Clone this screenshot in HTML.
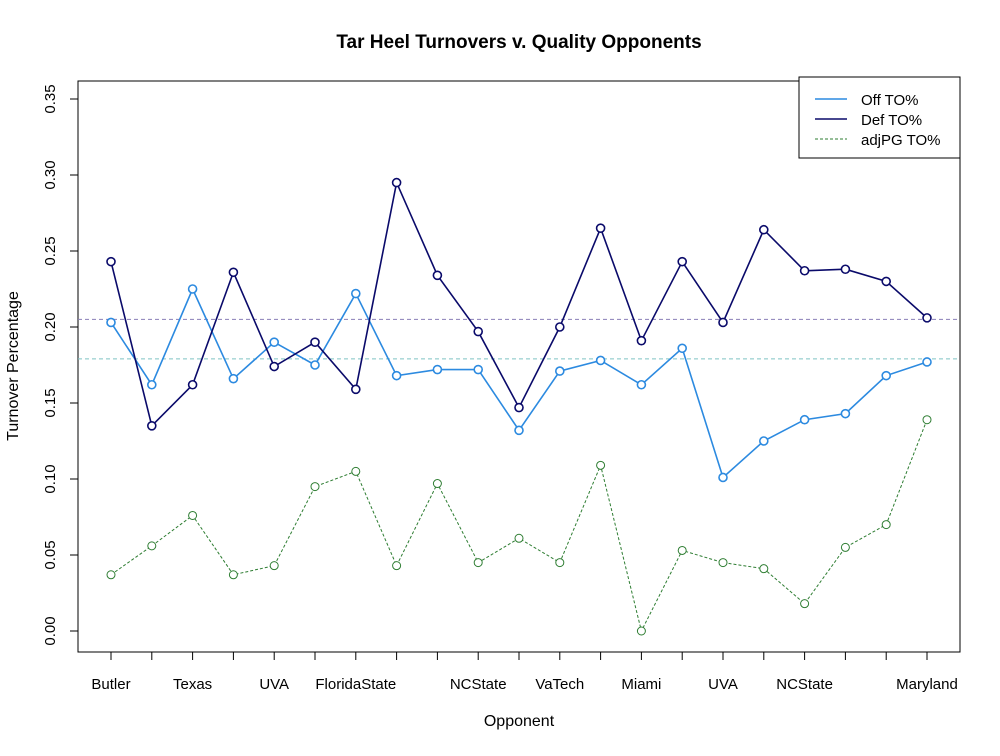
<!DOCTYPE html>
<html><head><meta charset="utf-8"><style>
body{margin:0;background:#fff;}
svg text{font-family:"Liberation Sans",sans-serif;fill:#000;}
</style></head><body>
<svg id="chart" width="1000" height="751" xmlns="http://www.w3.org/2000/svg">
<rect width="1000" height="751" fill="#fff"/>
<text x="519" y="48" text-anchor="middle" font-size="19" font-weight="bold">Tar Heel Turnovers v. Quality Opponents</text>
<rect x="78" y="81" width="882" height="571" fill="none" stroke="#000"/>
<text x="519" y="726" text-anchor="middle" font-size="16">Opponent</text>
<text transform="translate(18,366) rotate(-90)" text-anchor="middle" font-size="16">Turnover Percentage</text>
<g id="axes"></g>
<g id="series"></g>
<g>
<rect x="799" y="77" width="161" height="81" fill="#fff" stroke="#000"/>
<line x1="815" y1="99" x2="847" y2="99" stroke="#2c8ae0" stroke-width="1.5"/>
<text x="861" y="105" font-size="15">Off TO%</text>
<line x1="815" y1="119" x2="847" y2="119" stroke="#0a0a6a" stroke-width="1.5"/>
<text x="861" y="125" font-size="15">Def TO%</text>
<line x1="815" y1="139" x2="847" y2="139" stroke="#2e7d32" stroke-dasharray="3,2"/>
<text x="861" y="145" font-size="15">adjPG TO%</text>
</g>
</svg>
<script>
const categories=["Butler","","Texas","","UVA","","FloridaState","","","NCState","","VaTech","","Miami","","UVA","","NCState","","","Maryland"];
const offTO=[0.203,0.162,0.225,0.166,0.190,0.175,0.222,0.168,0.172,0.172,0.132,0.171,0.178,0.162,0.186,0.101,0.125,0.139,0.143,0.168,0.177];
const defTO=[0.243,0.135,0.162,0.236,0.174,0.190,0.159,0.295,0.234,0.197,0.147,0.200,0.265,0.191,0.243,0.203,0.264,0.237,0.238,0.230,0.206];
const adjPG=[0.037,0.056,0.076,0.037,0.043,0.095,0.105,0.043,0.097,0.045,0.061,0.045,0.109,0.000,0.053,0.045,0.041,0.018,0.055,0.070,0.139];
const yTicks=["0.00","0.05","0.10","0.15","0.20","0.25","0.30","0.35"];
const refLines=[0.205,0.179];
const NS="http://www.w3.org/2000/svg";
function xs(i){return 111+i*(927-111)/(categories.length-1);}
function ys(v){return 631-v*1520;}
function mk(tag,attrs,parent){const e=document.createElementNS(NS,tag);for(const k in attrs)e.setAttribute(k,attrs[k]);parent.appendChild(e);return e;}
const ax=document.getElementById('axes');
yTicks.forEach(t=>{const y=ys(parseFloat(t));
mk('line',{x1:70,y1:y,x2:78,y2:y,stroke:'#000'},ax);
const tx=mk('text',{transform:`translate(55,${y}) rotate(-90)`,'text-anchor':'middle','font-size':15},ax);tx.textContent=t;

});
categories.forEach((c,i)=>{const x=xs(i);
mk('line',{x1:x,y1:652,x2:x,y2:660,stroke:'#000'},ax);
if(c){const tx=mk('text',{x:x,y:689,'text-anchor':'middle','font-size':15},ax);tx.textContent=c;

}});
const sg=document.getElementById('series');
const refColors=['#8a7fb8','#7fc4c4'];
refLines.forEach((v,k)=>{const l=mk('line',{x1:78,x2:960,y1:ys(v),y2:ys(v),stroke:refColors[k],'stroke-dasharray':'4,3'},sg);

});
function series(vals,color,name,dash,sw,r){
const pts=vals.map((v,i)=>xs(i)+','+ys(v)).join(' ');
const pl=mk('polyline',{points:pts,fill:'none',stroke:color,'stroke-width':sw},sg);
if(dash)pl.setAttribute('stroke-dasharray',dash);


vals.forEach((v,i)=>{const c=mk('circle',{cx:xs(i),cy:ys(v),r:r,fill:'#fff',stroke:color,'stroke-width':sw},sg);

});}
series(adjPG,'#2e7d32','adjpg-to','3,2',1,4);
series(offTO,'#2c8ae0','off-to',null,1.6,4);
series(defTO,'#0a0a6a','def-to',null,1.6,4);
</script>
</body></html>
